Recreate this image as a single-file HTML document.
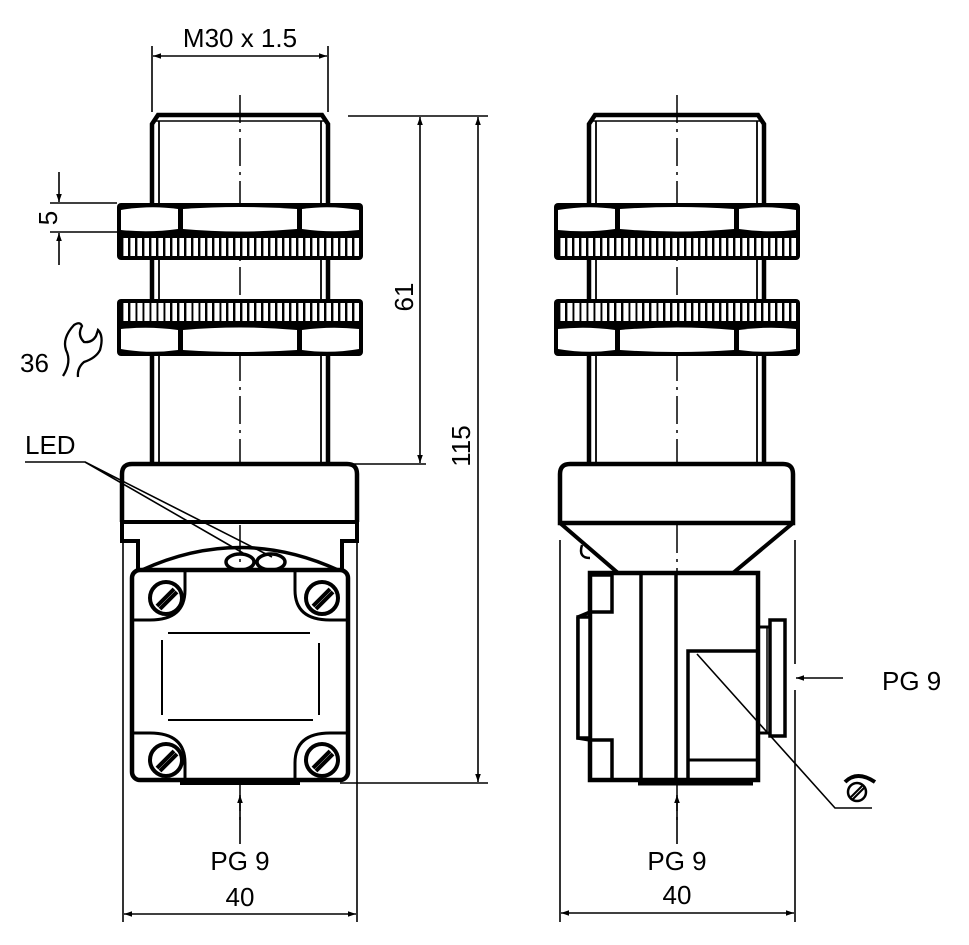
<!DOCTYPE html>
<html><head><meta charset="utf-8"><style>
html,body{margin:0;padding:0;background:#fff;}
svg{display:block;}
text{font-family:"Liberation Sans",sans-serif;font-size:26px;fill:#000;}
</style></head><body>
<svg width="969" height="945" viewBox="0 0 969 945" xmlns="http://www.w3.org/2000/svg">
<defs>
<pattern id="kn" width="7" height="40" patternUnits="userSpaceOnUse">
<rect x="0" y="0" width="2.4" height="40" fill="#000"/>
</pattern>
<marker id="ar" viewBox="0 0 10 10" refX="10" refY="5" markerWidth="16" markerHeight="8" markerUnits="userSpaceOnUse" orient="auto-start-reverse">
<path d="M0,1.5 L10,5 L0,8.5 Z" fill="#000"/>
</marker>
<g id="nut">
<rect x="-123" y="203" width="246" height="57" rx="4" fill="#000"/>
<path d="M-119,210 Q-90,205 -62,209 L-62,229 Q-90,233 -119,230 Z" fill="#fff"/>
<path d="M-57,209 Q0,205 57,209 L57,229 Q0,234 -57,229 Z" fill="#fff"/>
<path d="M62,209 Q90,205 119,210 L119,230 Q90,233 62,229 Z" fill="#fff"/>
<rect x="-119" y="238" width="238" height="18" fill="#fff"/>
<rect x="-119" y="238" width="238" height="18" fill="url(#kn)"/>
</g>
<g id="screw">
<circle r="16" fill="#fff" stroke="#000" stroke-width="4"/>
<line x1="-9" y1="8" x2="8" y2="-9" stroke="#000" stroke-width="4"/>
<line x1="-6" y1="11" x2="11" y2="-6" stroke="#000" stroke-width="4"/>
</g>
</defs>
<g fill="none" stroke="#000" stroke-linecap="butt">
<line x1="240" y1="95" x2="240" y2="820" stroke-width="1.5" stroke-dasharray="28,6,3,6"/>
<line x1="677" y1="95" x2="677" y2="820" stroke-width="1.5" stroke-dasharray="28,6,3,6"/>
<path d="M152,463 L152,124 L158,115 L322,115 L328,124 L328,463" stroke-width="4.5"/>
<line x1="159" y1="121" x2="159" y2="463" stroke-width="1.8"/>
<line x1="321" y1="121" x2="321" y2="463" stroke-width="1.8"/>
<line x1="152" y1="121" x2="328" y2="121" stroke-width="1.5"/>
<path d="M589,463 L589,124 L595,115 L758,115 L764,124 L764,463" stroke-width="4.5"/>
<line x1="596" y1="121" x2="596" y2="463" stroke-width="1.8"/>
<line x1="757" y1="121" x2="757" y2="463" stroke-width="1.8"/>
<line x1="589" y1="121" x2="764" y2="121" stroke-width="1.5"/>
</g>
<use href="#nut" transform="translate(240,0)"/>
<use href="#nut" transform="translate(240,559) scale(1,-1)"/>
<use href="#nut" transform="translate(677,0)"/>
<use href="#nut" transform="translate(677,559) scale(1,-1)"/>

<g fill="none" stroke="#000">
<path d="M122,522 L122,474 Q122,464 132,464 L347,464 Q357,464 357,474 L357,522" fill="#fff" stroke-width="4.5"/>
<path d="M122,522 L357,522 L357,541 L342,541 L342,570 M122,522 L122,541 L138,541 L138,570" stroke-width="4"/>
<path d="M142,570 Q240,525 338,570" stroke-width="3.5"/>
<ellipse cx="240" cy="562" rx="14" ry="8" stroke-width="3.5"/>
<ellipse cx="271" cy="562" rx="14" ry="8" stroke-width="3.5"/>
<rect x="132" y="570" width="216" height="210" rx="8" fill="#fff" stroke-width="4.5"/>
<path d="M132,620 L150,620 Q185,620 185,590 L185,570 M348,620 L330,620 Q295,620 295,590 L295,570" stroke-width="3"/>
<path d="M132,733 L150,733 Q185,733 185,763 L185,780 M348,733 L330,733 Q295,733 295,763 L295,780" stroke-width="3"/>
<line x1="168" y1="633" x2="310" y2="633" stroke-width="2"/>
<line x1="168" y1="720" x2="313" y2="720" stroke-width="2"/>
<line x1="162" y1="640" x2="162" y2="715" stroke-width="2"/>
<line x1="319" y1="643" x2="319" y2="715" stroke-width="2"/>
<path d="M180,782 L300,782" stroke-width="6"/>
<path d="M25,462 L85,462 L243,553 M85,462 L272,557" stroke-width="1.6"/>

<path d="M560,523 L560,474 Q560,464 570,464 L783,464 Q793,464 793,474 L793,523 Z" fill="#fff" stroke-width="4.5"/>
<path d="M560,523 L618,573 M793,523 L733,573" stroke-width="4"/>
<path d="M582,545 Q578,558 590,558" stroke-width="2.5"/>
<rect x="590" y="573" width="168" height="207" fill="#fff" stroke-width="4.5"/>
<path d="M590,575 L612,575 L612,612 L590,612 M578,617 L590,612 M578,617 L578,738 L590,740 M590,740 L612,740 L612,780" stroke-width="3.5"/>
<rect x="578" y="617" width="12" height="121" fill="#fff" stroke-width="3.5"/>
<line x1="641" y1="575" x2="641" y2="780" stroke-width="3.5"/>
<line x1="676" y1="575" x2="676" y2="780" stroke-width="3.5"/>
<path d="M688,780 L688,651 L757,651" stroke-width="3.5"/>
<line x1="688" y1="760" x2="757" y2="760" stroke-width="3"/>
<path d="M638,783 L753,783" stroke-width="5"/>
<rect x="770" y="620" width="15" height="116" fill="#fff" stroke-width="3.5"/>
<line x1="760" y1="627" x2="770" y2="627" stroke-width="3"/>
<line x1="760" y1="733" x2="770" y2="733" stroke-width="3"/>
<line x1="767" y1="628" x2="767" y2="733" stroke-width="1.5"/>
<path d="M697,654 L835,808 L872,808" stroke-width="1.6"/>
<circle cx="857" cy="792" r="9" stroke-width="2.5"/>
<line x1="851" y1="797" x2="862" y2="786" stroke-width="2"/>
<line x1="853" y1="799" x2="864" y2="788" stroke-width="2"/>
<path d="M845,782 Q857,770 875,782" stroke-width="4"/>
<path d="M63,376 Q72,362 66,350 Q62,338 74,325 Q80,321 82,326 Q77,335 84,342 Q92,343 96,336 L98,330 Q104,336 100,350 Q96,358 84,362 Q77,368 78,377" stroke-width="2.3"/>
</g>
<use href="#screw" transform="translate(166,598)"/>
<use href="#screw" transform="translate(322,598)"/>
<use href="#screw" transform="translate(166,760)"/>
<use href="#screw" transform="translate(322,760)"/>

<g stroke="#000" stroke-width="1.6" fill="none">
<line x1="152" y1="46" x2="152" y2="112"/>
<line x1="328" y1="46" x2="328" y2="112"/>
<line x1="153" y1="56" x2="327" y2="56" marker-start="url(#ar)" marker-end="url(#ar)"/>
<line x1="50" y1="203" x2="117" y2="203"/>
<line x1="50" y1="232" x2="117" y2="232"/>
<line x1="59" y1="172" x2="59" y2="202" marker-end="url(#ar)"/>
<line x1="59" y1="265" x2="59" y2="233" marker-end="url(#ar)"/>
<line x1="348" y1="116" x2="488" y2="116"/>
<line x1="340" y1="464" x2="426" y2="464"/>
<line x1="420" y1="117" x2="420" y2="463" marker-start="url(#ar)" marker-end="url(#ar)"/>
<line x1="340" y1="783" x2="488" y2="783"/>
<line x1="478" y1="117" x2="478" y2="782" marker-start="url(#ar)" marker-end="url(#ar)"/>
<line x1="123" y1="540" x2="123" y2="922"/>
<line x1="357" y1="540" x2="357" y2="922"/>
<line x1="124" y1="914" x2="356" y2="914" marker-start="url(#ar)" marker-end="url(#ar)"/>
<line x1="240" y1="844" x2="240" y2="795" marker-end="url(#ar)"/>
<line x1="560" y1="540" x2="560" y2="922"/>
<line x1="795" y1="540" x2="795" y2="664"/>
<line x1="795" y1="690" x2="795" y2="922"/>
<line x1="561" y1="913" x2="794" y2="913" marker-start="url(#ar)" marker-end="url(#ar)"/>
<line x1="677" y1="844" x2="677" y2="795" marker-end="url(#ar)"/>
<line x1="843" y1="678" x2="796" y2="678" marker-end="url(#ar)"/>
</g>

<text x="240" y="47" text-anchor="middle">M30 x 1.5</text>
<text transform="translate(57,218) rotate(-90)" text-anchor="middle">5</text>
<text transform="translate(413,297) rotate(-90)" text-anchor="middle">61</text>
<text transform="translate(470,446) rotate(-90)" text-anchor="middle">115</text>
<text x="20" y="372">36</text>
<text x="25" y="454">LED</text>
<text x="240" y="870" text-anchor="middle">PG 9</text>
<text x="240" y="906" text-anchor="middle">40</text>
<text x="677" y="870" text-anchor="middle">PG 9</text>
<text x="677" y="904" text-anchor="middle">40</text>
<text x="882" y="690">PG 9</text>
</svg>
</body></html>
